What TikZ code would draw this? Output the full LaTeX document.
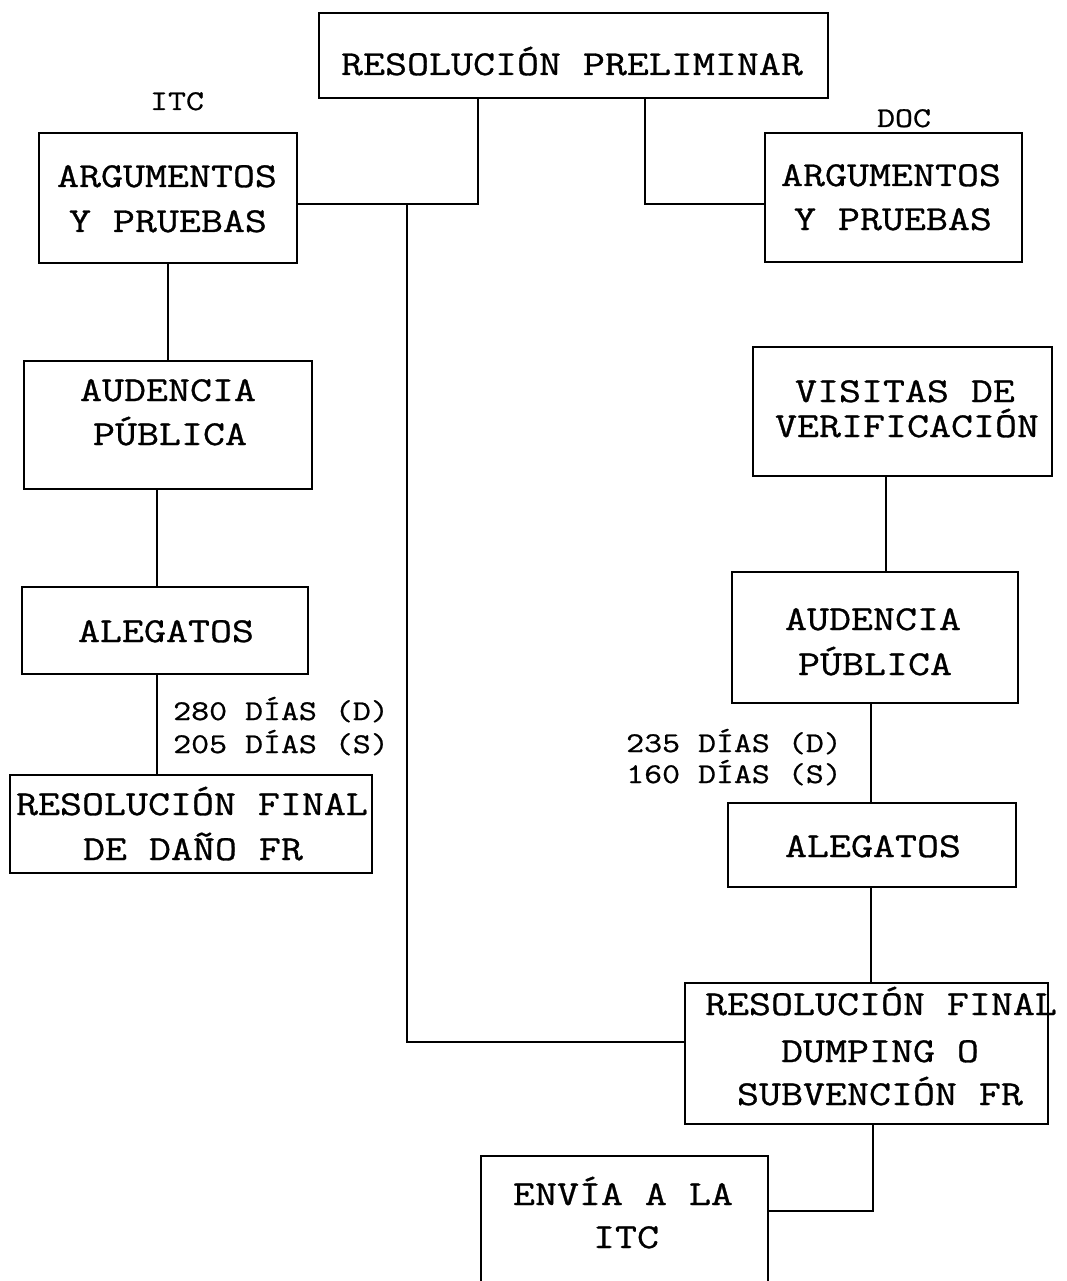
\documentclass[tikz,border=0pt]{standalone}
\usepackage{fontspec}
\newfontfamily\cour[FakeStretch=1.22,FakeBold=0.8]{Latin Modern Mono}
\usetikzlibrary{fit}
\tikzset{
  box/.style={draw, line width=1.8pt, inner sep=0pt},
  conn/.style={draw, line width=1.8pt},
  txt/.style={font=\cour\fontsize{35}{42}\selectfont, inner sep=0pt, anchor=base},
  lab/.style={font=\cour\fontsize{28.6}{34}\selectfont, inner sep=0pt, anchor=base},
}
\begin{document}
\begin{tikzpicture}[x=1pt,y=-1pt]
\fill[white] (0,0) rectangle (1066,1281);
\useasboundingbox (0,0) rectangle (1066,1281);
\clip (0,0) rectangle (1066,1281);
% boxes
\node[box, fit={(319,13) (828,98)}] (pre) {};
\node[box, fit={(39,133) (297,263)}] (argL) {};
\node[box, fit={(765,133) (1022,262)}] (argR) {};
\node[box, fit={(24,361) (312,489)}] (audL) {};
\node[box, fit={(22,587) (308,674)}] (aleL) {};
\node[box, fit={(10,775) (372,873)}] (dano) {};
\node[box, fit={(753,347) (1052,476)}] (visR) {};
\node[box, fit={(732,572) (1018,703)}] (audR) {};
\node[box, fit={(728,803) (1016,887)}] (aleR) {};
\node[box, fit={(685,983) (1048,1124)}] (dump) {};
\node[box, fit={(481,1156) (768,1300)}] (envia) {};
% texts
\node[txt] (preT) at (572,75) {RESOLUCIÓN PRELIMINAR};
\node[lab] (itc) at (177,110) {ITC};
\node[lab] (doc) at (904,127) {DOC};
\node[txt] (argLa) at (167,187) {ARGUMENTOS};
\node[txt] (argLb) at (168,232) {Y PRUEBAS};
\node[txt] (argRa) at (891,186) {ARGUMENTOS};
\node[txt] (argRb) at (893,230) {Y PRUEBAS};
\node[txt] (audLa) at (168,401) {AUDENCIA};
\node[txt] (audLb) at (170,445) {PÚBLICA};
\node[txt] (aleLa) at (166,642) {ALEGATOS};
\node[txt] (danoa) at (192,815) {RESOLUCIÓN FINAL};
\node[txt] (danob) at (193,860) {DE DAÑO FR};
\node[txt] (visRa) at (905,402) {VISITAS DE};
\node[txt] (visRb) at (907,437) {VERIFICACIÓN};
\node[txt] (audRa) at (873,630) {AUDENCIA};
\node[txt] (audRb) at (875,675) {PÚBLICA};
\node[txt] (aleRa) at (873,857) {ALEGATOS};
\node[txt] (dumpa) at (881,1015) {RESOLUCIÓN FINAL};
\node[txt] (dumpb) at (880,1062) {DUMPING O};
\node[txt] (dumpc) at (880,1105) {SUBVENCIÓN FR};
\node[txt] (enva) at (623,1205) {ENVÍA A LA};
\node[txt] (envb) at (626,1248) {ITC};
\node[lab, anchor=base west] (dl1) at (173,720) {280 DÍAS (D)};
\node[lab, anchor=base west] (dl2) at (173,753) {205 DÍAS (S)};
\node[lab, anchor=base east] (dr1) at (842,752) {235 DÍAS (D)};
\node[lab, anchor=base east] (dr2) at (842,783) {160 DÍAS (S)};
% connectors
\coordinate (j) at (407,204);
\draw[conn] (478,0 |- pre.south) -- (478,204) -- (argL.east |- 0,204);
\draw[conn] (645,0 |- pre.south) -- (645,204) -- (argR.west |- 0,204);
\draw[conn] (j) |- (dump.west |- 0,1042);
\draw[conn] (168,0 |- argL.south) -- (168,0 |- audL.north);
\draw[conn] (157,0 |- audL.south) -- (157,0 |- aleL.north);
\draw[conn] (157,0 |- aleL.south) -- (157,0 |- dano.north);
\draw[conn] (886,0 |- visR.south) -- (886,0 |- audR.north);
\draw[conn] (871,0 |- audR.south) -- (871,0 |- aleR.north);
\draw[conn] (871,0 |- aleR.south) -- (871,0 |- dump.north);
\draw[conn] (873,0 |- dump.south) -- (873,1211) -- (envia.east |- 0,1211);
\end{tikzpicture}
\end{document}
